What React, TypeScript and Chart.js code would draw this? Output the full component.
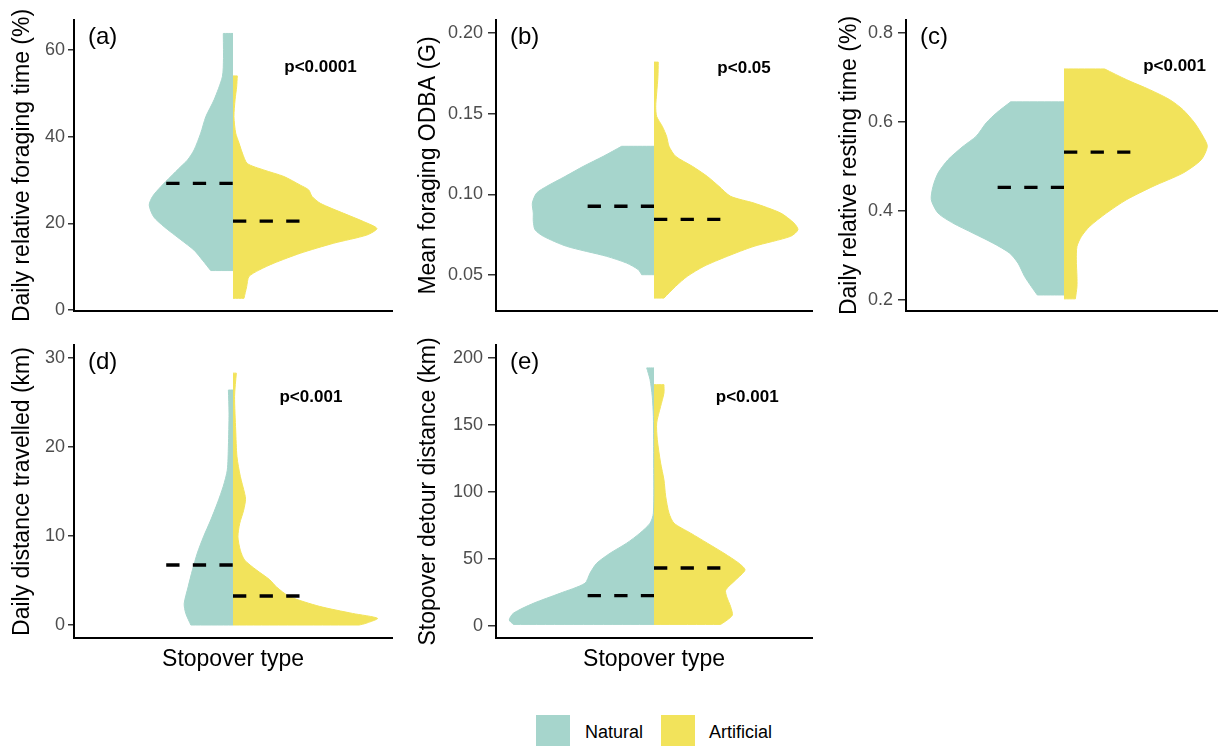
import React, { useEffect, useRef } from "react";
import { Chart, registerables } from "chart.js";

Chart.register(...registerables);

const FONT = '"Liberation Sans", Arial, Helvetica, sans-serif';
const NATURAL_COLOR = "#A6D5CC";
const ARTIFICIAL_COLOR = "#F2E35B";
const SERIES_NAMES = ["Natural", "Artificial"];
const X_TITLE = "Stopover type";

// ---------- (a) Daily relative foraging time ----------
const aNatY = [9.1, 11.5, 13.8, 16.2, 19.2, 21.5, 24.2, 26.2, 28.5, 30.8, 33.1, 34.6, 36.9, 40.8, 44.6, 48.5, 53.8, 58.0, 63.8];
const aNatW = [0.140, 0.192, 0.245, 0.328, 0.433, 0.499, 0.527, 0.506, 0.453, 0.391, 0.328, 0.286, 0.245, 0.203, 0.171, 0.119, 0.067, 0.060, 0.061];
const aArtY = [2.7, 5.4, 7.7, 9.2, 10.8, 13.1, 15.4, 17.3, 18.8, 20.4, 22.3, 24.6, 26.2, 27.7, 28.8, 30.8, 32.3, 33.8, 36.2, 38.5, 40.8, 44.6, 48.5, 51.5, 54.0];
const aArtW = [0.069, 0.086, 0.100, 0.163, 0.257, 0.424, 0.633, 0.842, 0.905, 0.821, 0.696, 0.550, 0.497, 0.476, 0.424, 0.320, 0.194, 0.090, 0.059, 0.038, 0.017, 0.006, 0.013, 0.023, 0.027];
const aMedians = [29.2, 20.5];
const aTicks = [0, 20, 40, 60];
const aTickLabels = ["0", "20", "40", "60"];

// ---------- (b) Mean foraging ODBA ----------
const bNatY = [0.0502, 0.0533, 0.0574, 0.0616, 0.0678, 0.074, 0.0781, 0.0833, 0.0884, 0.0946, 0.1008, 0.105, 0.1111, 0.1174, 0.1236, 0.1298];
const bNatW = [0.078, 0.099, 0.173, 0.300, 0.553, 0.700, 0.753, 0.764, 0.764, 0.770, 0.743, 0.679, 0.563, 0.447, 0.321, 0.205];
const bArtY = [0.0357, 0.043, 0.0492, 0.0554, 0.0616, 0.0678, 0.074, 0.0781, 0.0822, 0.0884, 0.0946, 0.0988, 0.105, 0.1111, 0.1174, 0.1236, 0.1298, 0.1359, 0.1421, 0.1483, 0.1545, 0.1628, 0.1731, 0.182];
const bArtW = [0.063, 0.137, 0.211, 0.316, 0.464, 0.633, 0.865, 0.911, 0.886, 0.802, 0.633, 0.485, 0.411, 0.338, 0.243, 0.137, 0.095, 0.080, 0.053, 0.017, 0.011, 0.017, 0.025, 0.027];
const bMedians = [0.0926, 0.0845];
const bTicks = [0.05, 0.1, 0.15, 0.2];
const bTickLabels = ["0.05", "0.10", "0.15", "0.20"];

// ---------- (c) Daily relative resting time ----------
const cNatY = [0.211, 0.23, 0.2525, 0.2825, 0.305, 0.3275, 0.35, 0.3725, 0.395, 0.425, 0.455, 0.485, 0.515, 0.545, 0.568, 0.598, 0.62, 0.645];
const cNatW = [0.169, 0.207, 0.249, 0.291, 0.344, 0.449, 0.576, 0.703, 0.797, 0.840, 0.829, 0.797, 0.734, 0.639, 0.555, 0.492, 0.428, 0.338];
const cArtY = [0.2023, 0.23, 0.2525, 0.29, 0.32, 0.3425, 0.365, 0.395, 0.425, 0.455, 0.485, 0.515, 0.545, 0.5675, 0.5975, 0.6275, 0.65, 0.6725, 0.695, 0.719];
const cArtW = [0.072, 0.082, 0.082, 0.078, 0.082, 0.110, 0.162, 0.268, 0.395, 0.563, 0.753, 0.869, 0.907, 0.880, 0.827, 0.753, 0.669, 0.542, 0.395, 0.257];
const cMedians = [0.4528, 0.532];
const cTicks = [0.2, 0.4, 0.6, 0.8];
const cTickLabels = ["0.2", "0.4", "0.6", "0.8"];

// ---------- (d) Daily distance travelled ----------
const dNatY = [0, 1.3, 2.4, 4.3, 6.2, 8.1, 9.9, 11.8, 13.7, 15.6, 17.4, 20.1, 23.8, 26.4];
const dNatW = [0.265, 0.297, 0.307, 0.282, 0.255, 0.224, 0.186, 0.140, 0.098, 0.061, 0.036, 0.029, 0.025, 0.029];
const dArtY = [0, 0.19, 0.75, 1.3, 2.1, 3.2, 4.3, 5.1, 6.2, 7.3, 8.4, 9.9, 11.4, 12.9, 14.1, 14.8, 16.7, 18.9, 21.9, 25.7, 28.3];
const dArtW = [0.794, 0.836, 0.909, 0.752, 0.543, 0.355, 0.272, 0.230, 0.146, 0.073, 0.046, 0.031, 0.042, 0.067, 0.079, 0.073, 0.046, 0.025, 0.017, 0.010, 0.021];
const dMedians = [6.75, 3.26];
const dTicks = [0, 10, 20, 30];
const dTickLabels = ["0", "10", "20", "30"];

// ---------- (e) Stopover detour distance ----------
const eNatY = [1.2, 4.5, 9.5, 16.9, 24.4, 31.9, 39.4, 46.8, 54.3, 61.8, 69.3, 76.7, 84.2, 121.6, 156.4, 171.4, 183.8, 192.6];
const eNatW = [0.890, 0.916, 0.890, 0.764, 0.595, 0.437, 0.405, 0.363, 0.278, 0.173, 0.089, 0.025, 0.004, 0.002, 0.004, 0.011, 0.025, 0.046];
const eArtY = [1.2, 4.5, 8.2, 14.4, 21.9, 26.9, 34.4, 41.8, 46.8, 54.3, 61.8, 69.3, 76.7, 84.2, 96.7, 109.1, 121.6, 139.0, 151.5, 163.9, 173.9, 180.1];
const eArtW = [0.422, 0.464, 0.496, 0.485, 0.460, 0.454, 0.517, 0.576, 0.538, 0.443, 0.338, 0.232, 0.127, 0.095, 0.074, 0.063, 0.042, 0.021, 0.017, 0.042, 0.063, 0.063];
const eMedians = [22.7, 43.3];
const eTicks = [0, 50, 100, 150, 200];
const eTickLabels = ["0", "50", "100", "150", "200"];

type PanelDef = {
  tag: string;
  yTitle: string;
  p: string;
  pAt: [number, number];
  natY: number[];
  natW: number[];
  artY: number[];
  artW: number[];
  medians: number[];
  ticks: number[];
  tickLabels: string[];
  yMin: number;
  yMax: number;
};

const PANELS: PanelDef[] = [
  { tag: "(a)", yTitle: "Daily relative foraging time (%)", p: "p<0.0001", pAt: [0.55, 56.1], natY: aNatY, natW: aNatW, artY: aArtY, artW: aArtW, medians: aMedians, ticks: aTicks, tickLabels: aTickLabels, yMin: -0.23, yMax: 66.9 },
  { tag: "(b)", yTitle: "Mean foraging ODBA (G)", p: "p<0.05", pAt: [0.57, 0.178], natY: bNatY, natW: bNatW, artY: bArtY, artW: bArtW, medians: bMedians, ticks: bTicks, tickLabels: bTickLabels, yMin: 0.0277, yMax: 0.2081 },
  { tag: "(c)", yTitle: "Daily relative resting time (%)", p: "p<0.001", pAt: [0.70, 0.724], natY: cNatY, natW: cNatW, artY: cArtY, artW: cArtW, medians: cMedians, ticks: cTicks, tickLabels: cTickLabels, yMin: 0.175, yMax: 0.829 },
  { tag: "(d)", yTitle: "Daily distance travelled (km)", p: "p<0.001", pAt: [0.49, 25.6], natY: dNatY, natW: dNatW, artY: dArtY, artW: dArtW, medians: dMedians, ticks: dTicks, tickLabels: dTickLabels, yMin: -1.46, yMax: 31.46 },
  { tag: "(e)", yTitle: "Stopover detour distance (km)", p: "p<0.001", pAt: [0.59, 170.9], natY: eNatY, natW: eNatW, artY: eArtY, artW: eArtW, medians: eMedians, ticks: eTicks, tickLabels: eTickLabels, yMin: -8.96, yMax: 209.7 },
];

type Box = {
  left: number; top: number; width: number; height: number;
  axisW: number; padTop: number; padRight: number; xH: number;
  titlePad: number; tickLen: number; tickPad: number; xTitle: boolean;
};

const BOXES: Box[] = [
  { left: 0, top: 0, width: 400, height: 330, axisW: 74, padTop: 20, padRight: 8, xH: 19, titlePad: 9.2, tickLen: 6, tickPad: 3, xTitle: false },
  { left: 410, top: 0, width: 410, height: 330, axisW: 86, padTop: 20, padRight: 8, xH: 19, titlePad: 5.2, tickLen: 8, tickPad: 5, xTitle: false },
  { left: 830, top: 0, width: 392, height: 330, axisW: 76, padTop: 20, padRight: 0, xH: 19, titlePad: 6.2, tickLen: 8, tickPad: 5, xTitle: false },
  { left: 0, top: 325, width: 400, height: 365, axisW: 74, padTop: 20, padRight: 8, xH: 52, titlePad: 9.2, tickLen: 6, tickPad: 3, xTitle: true },
  { left: 410, top: 325, width: 410, height: 365, axisW: 86, padTop: 20, padRight: 8, xH: 52, titlePad: 5.2, tickLen: 8, tickPad: 5, xTitle: true },
];

const MEDIAN_HALF = 0.42;

const annotationPlugin = {
  id: "panelText",
  afterDraw(chart: any, _args: any, opts: any) {
    const { ctx, chartArea, scales } = chart;
    ctx.save();
    ctx.fillStyle = "#000";
    ctx.font = `24px ${FONT}`;
    ctx.textAlign = "left";
    ctx.textBaseline = "middle";
    ctx.fillText(opts.tag, chartArea.left + 14, chartArea.top + 17);
    ctx.font = `bold 17px ${FONT}`;
    ctx.textAlign = "center";
    ctx.fillText(opts.p, scales.x.getPixelForValue(opts.px), scales.y.getPixelForValue(opts.py));
    ctx.restore();
  },
};

// Outline of one half-violin: from the centre line at the bottom, out along
// the density edge, and back to the centre line at the top. The first and last
// edge points are repeated so the flat ends keep sharp corners under tension.
function shape(ys: number[], ws: number[], sign: number) {
  const n = ys.length;
  const pts = [{ x: 0, y: ys[0] }, { x: sign * ws[0], y: ys[0] }];
  ys.forEach((y, i) => pts.push({ x: sign * ws[i], y }));
  pts.push({ x: sign * ws[n - 1], y: ys[n - 1] });
  pts.push({ x: 0, y: ys[n - 1] });
  return pts;
}

function ViolinPanel({ panel, box }: { panel: PanelDef; box: Box }) {
  const ref = useRef<HTMLCanvasElement>(null);
  useEffect(() => {
    const canvas = ref.current;
    if (!canvas) return;
    const chart = new Chart(canvas, {
      type: "line",
      data: {
        datasets: [
          {
            label: "median " + SERIES_NAMES[0],
            data: [{ x: -MEDIAN_HALF, y: panel.medians[0] }, { x: 0, y: panel.medians[0] }],
            borderColor: "#000",
            borderWidth: 3.4,
            borderDash: [13.3, 13.3],
            pointRadius: 0,
            fill: false,
            tension: 0,
          },
          {
            label: "median " + SERIES_NAMES[1],
            data: [{ x: 0, y: panel.medians[1] }, { x: MEDIAN_HALF, y: panel.medians[1] }],
            borderColor: "#000",
            borderWidth: 3.4,
            borderDash: [13.3, 13.3],
            pointRadius: 0,
            fill: false,
            tension: 0,
          },
          {
            label: SERIES_NAMES[0],
            data: shape(panel.natY, panel.natW, -1),
            borderColor: NATURAL_COLOR,
            backgroundColor: NATURAL_COLOR,
            borderWidth: 1,
            pointRadius: 0,
            fill: "shape",
            tension: 0.25,
          },
          {
            label: SERIES_NAMES[1],
            data: shape(panel.artY, panel.artW, 1),
            borderColor: ARTIFICIAL_COLOR,
            backgroundColor: ARTIFICIAL_COLOR,
            borderWidth: 1,
            pointRadius: 0,
            fill: "shape",
            tension: 0.25,
          },
        ],
      } as any,
      options: {
        responsive: false,
        animation: false,
        devicePixelRatio: 1,
        layout: { padding: { left: 0, top: box.padTop, right: box.padRight, bottom: 0 } },
        plugins: {
          legend: { display: false },
          tooltip: { enabled: false },
          panelText: { tag: panel.tag, p: panel.p, px: panel.pAt[0], py: panel.pAt[1] },
        } as any,
        scales: {
          x: {
            type: "linear",
            min: -1,
            max: 1,
            ticks: { display: false },
            grid: { display: false },
            border: { display: true, color: "#000", width: 2 },
            title: {
              display: box.xTitle,
              text: X_TITLE,
              color: "#000",
              font: { family: FONT, size: 23 },
              padding: { top: 0, bottom: 16.2 },
            },
            afterFit: (s: any) => {
              s.height = box.xH;
            },
          },
          y: {
            type: "linear",
            min: panel.yMin,
            max: panel.yMax,
            afterBuildTicks: (s: any) => {
              s.ticks = panel.ticks.map((v) => ({ value: v }));
            },
            ticks: {
              color: "#4D4D4D",
              font: { family: FONT, size: 18 },
              padding: box.tickPad,
              callback: (_v: any, i: number) => panel.tickLabels[i],
            },
            grid: {
              display: true,
              drawOnChartArea: false,
              drawTicks: true,
              tickLength: box.tickLen,
              color: "#333",
              lineWidth: 1.5,
            },
            border: { display: true, color: "#000", width: 2 },
            title: {
              display: true,
              text: panel.yTitle,
              color: "#000",
              font: { family: FONT, size: 23 },
              padding: { top: box.titlePad, bottom: 0 },
            },
            afterFit: (s: any) => {
              s.width = box.axisW;
            },
          },
        } as any,
      },
      plugins: [annotationPlugin as any],
    });
    return () => chart.destroy();
  }, [panel, box]);
  return (
    <canvas
      ref={ref}
      width={box.width}
      height={box.height}
      style={{ position: "absolute", left: box.left, top: box.top, width: box.width, height: box.height, display: "block" }}
    />
  );
}

export default function App() {
  const legendText: React.CSSProperties = {
    position: "absolute",
    top: 722,
    height: 22,
    lineHeight: "22px",
    font: `18px ${FONT}`,
    color: "#000",
    whiteSpace: "nowrap",
  };
  return (
    <div style={{ position: "absolute", left: 0, top: 0, width: 1218, height: 746, overflow: "hidden", background: "#fff" }}>
      {PANELS.map((p, i) => (
        <ViolinPanel key={p.tag} panel={p} box={BOXES[i]} />
      ))}
      <div style={{ position: "absolute", left: 536, top: 715, width: 34, height: 34, background: NATURAL_COLOR }} />
      <div style={{ ...legendText, left: 585 }}>{SERIES_NAMES[0]}</div>
      <div style={{ position: "absolute", left: 661, top: 715, width: 34, height: 34, background: ARTIFICIAL_COLOR }} />
      <div style={{ ...legendText, left: 709 }}>{SERIES_NAMES[1]}</div>
    </div>
  );
}
